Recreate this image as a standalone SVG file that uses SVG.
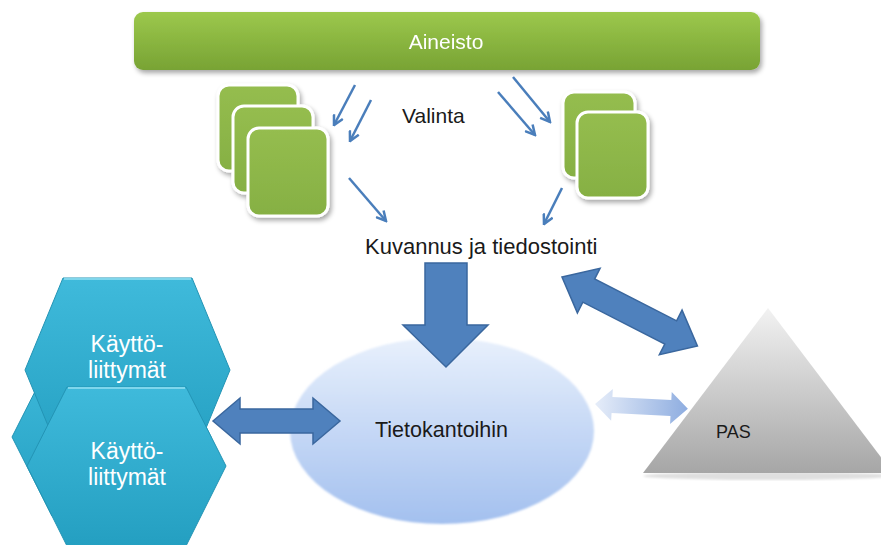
<svg xmlns="http://www.w3.org/2000/svg" width="881" height="545" viewBox="0 0 881 545">
  <defs>
    <linearGradient id="gBar" x1="0" y1="0" x2="0" y2="1">
      <stop offset="0" stop-color="#9cc84c"/>
      <stop offset="1" stop-color="#78a334"/>
    </linearGradient>
    <linearGradient id="gSq" x1="0" y1="0" x2="0" y2="1">
      <stop offset="0" stop-color="#95bd4f"/>
      <stop offset="1" stop-color="#86b043"/>
    </linearGradient>
    <linearGradient id="gHex" x1="0" y1="0" x2="0" y2="1">
      <stop offset="0" stop-color="#3fbadb"/>
      <stop offset="1" stop-color="#249fc1"/>
    </linearGradient>
    <linearGradient id="gEll" x1="0" y1="0" x2="0" y2="1">
      <stop offset="0" stop-color="#e8f0fc"/>
      <stop offset="1" stop-color="#a3c0ef"/>
    </linearGradient>
    <linearGradient id="gTri" x1="0" y1="0" x2="0" y2="1">
      <stop offset="0" stop-color="#f2f2f2"/>
      <stop offset="1" stop-color="#a6a6a6"/>
    </linearGradient>
    <linearGradient id="gLight" x1="0" y1="0" x2="1" y2="0">
      <stop offset="0" stop-color="#e6edf9"/>
      <stop offset="1" stop-color="#8eade0"/>
    </linearGradient>
    <filter id="shadow" x="-20%" y="-20%" width="150%" height="150%">
      <feGaussianBlur in="SourceAlpha" stdDeviation="2.5"/>
      <feOffset dx="2" dy="3" result="b"/>
      <feComponentTransfer><feFuncA type="linear" slope="0.35"/></feComponentTransfer>
      <feMerge><feMergeNode/><feMergeNode in="SourceGraphic"/></feMerge>
    </filter>
    <filter id="soft" x="-10%" y="-10%" width="120%" height="120%">
      <feGaussianBlur stdDeviation="1.2"/>
    </filter>
    <marker id="head" viewBox="0 0 12 12" refX="10.5" refY="6" markerWidth="12" markerHeight="12" markerUnits="userSpaceOnUse" orient="auto">
      <path d="M1,1 L10.5,6 L1,11" fill="none" stroke="#4a7ebb" stroke-width="2.5" stroke-linejoin="miter"/>
    </marker>
    <style>
      .lbl { font-family: "Liberation Sans", Arial, sans-serif; fill: #1a1a1a; }
      .wht { font-family: "Liberation Sans", Arial, sans-serif; fill: #ffffff; }
      .sq { fill: url(#gSq); stroke: #ffffff; stroke-width: 3; }
      .hex { fill: url(#gHex); stroke: #2394b5; stroke-width: 1; }
      .hexTop { stroke: #7fd6ec; stroke-width: 2; fill: none; }
      .big { fill: #4f81bd; stroke: #3a679e; stroke-width: 1.5; stroke-linejoin: miter; }
      .thin { stroke: #4a7ebb; stroke-width: 2.5; fill: none; marker-end: url(#head); }
    </style>
  </defs>

  <rect width="881" height="545" fill="#ffffff"/>

  <!-- source material bar -->
  <g id="aineisto" filter="url(#shadow)">
    <rect x="134" y="12" width="626" height="58" rx="9" fill="url(#gBar)"/>
    <text class="wht" x="446" y="49" font-size="21" text-anchor="middle">Aineisto</text>
  </g>

  <!-- selected items, left stack -->
  <g id="valinta-vasen" filter="url(#shadow)">
    <rect class="sq" x="218" y="85" width="80" height="86" rx="11"/>
    <rect class="sq" x="233" y="106" width="80" height="87" rx="11"/>
    <rect class="sq" x="248" y="128" width="80" height="88" rx="11"/>
  </g>

  <!-- selected items, right stack -->
  <g id="valinta-oikea" filter="url(#shadow)">
    <rect class="sq" x="563" y="92" width="72" height="86" rx="11"/>
    <rect class="sq" x="577" y="112" width="71" height="86" rx="11"/>
  </g>

  <g id="valinta-teksti">
    <text class="lbl" x="402" y="123" font-size="21">Valinta</text>
  </g>

  <g id="kuvannus">
    <text class="lbl" x="365" y="254" font-size="22">Kuvannus ja tiedostointi</text>
  </g>

  <!-- user interfaces: rear, upper, front -->
  <g id="kayttoliittymat-taka">
    <polygon class="hex" points="52,358 171,358 211,437 171,516 52,516 12,437"/>
  </g>
  <g id="kayttoliittymat-1">
    <polygon class="hex" points="63,278 192,278 230,370 192,462 63,462 25,370"/>
    <line class="hexTop" x1="64" y1="279" x2="191" y2="279"/>
    <text class="wht" x="127" y="352" font-size="23" text-anchor="middle">Käyttö-</text>
    <text class="wht" x="127" y="378" font-size="23" text-anchor="middle">liittymät</text>
  </g>
  <g id="kayttoliittymat-2">
    <polygon class="hex" points="67,387 186,387 226,466 186,546 67,546 27,466"/>
    <line class="hexTop" x1="68" y1="388" x2="185" y2="388"/>
    <text class="wht" x="127" y="459" font-size="23" text-anchor="middle">Käyttö-</text>
    <text class="wht" x="127" y="485" font-size="23" text-anchor="middle">liittymät</text>
  </g>

  <!-- databases -->
  <g id="tietokannat">
    <ellipse cx="442" cy="431" rx="152" ry="93" fill="url(#gEll)" filter="url(#soft)"/>
    <text class="lbl" x="375" y="437" font-size="21.5">Tietokantoihin</text>
  </g>

  <!-- PAS -->
  <g id="pas">
    <ellipse cx="768" cy="476" rx="125" ry="4" fill="#000" opacity="0.12" filter="url(#soft)"/>
    <polygon points="768,308 893,473 643,473" fill="url(#gTri)"/>
    <text class="lbl" x="716" y="438" font-size="18">PAS</text>
  </g>

  <!-- connectors -->
  <g id="connectors">
    <line class="thin" x1="355" y1="85" x2="334" y2="125"/>
    <line class="thin" x1="371" y1="100" x2="350" y2="141"/>
    <line class="thin" x1="513" y1="77" x2="550" y2="122"/>
    <line class="thin" x1="498" y1="92" x2="535" y2="135"/>
    <line class="thin" x1="349" y1="178" x2="386" y2="221"/>
    <line class="thin" x1="562" y1="188" x2="544" y2="224"/>

    <polygon class="big" points="425,263 467,263 467,325 488,325 446,367 403,325 425,325"/>
    <polygon class="big" points="213,421 240,398 240,409 313,409 313,398 340,421 313,444 313,433 240,433 240,444"/>
    <polygon class="big" transform="translate(562,277) rotate(27)" points="0,0 30,-25 30,-13 122,-13 122,-25 152,0 122,25 122,13 30,13 30,25"/>
    <polygon fill="url(#gLight)" transform="translate(595,404) rotate(3)" points="0,0 17,-16 17,-8 76,-8 76,-16 93,0 76,16 76,8 17,8 17,16"/>
  </g>
</svg>
